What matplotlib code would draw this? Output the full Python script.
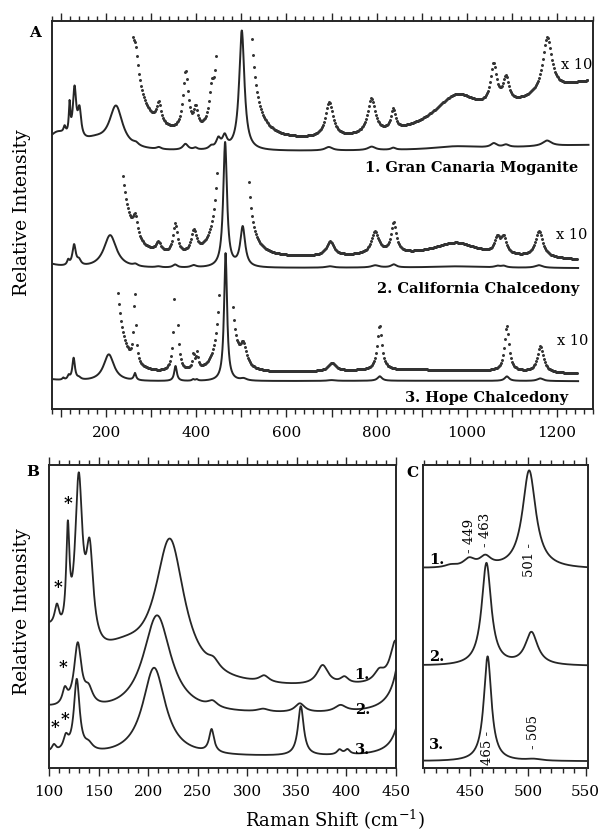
import numpy as np
import matplotlib
matplotlib.use("Agg")
import matplotlib.pyplot as plt
from matplotlib.ticker import MultipleLocator, FuncFormatter

plt.rcParams['font.family'] = ['DejaVu Serif']
plt.rcParams['mathtext.fontset'] = 'dejavuserif'

# Peak tables: band position (cm-1), height, half width
# 1. Gran Canaria moganite
mog_pos = [92, 108, 119, 130, 141, 175, 222, 266, 317, 376, 398, 433, 449, 463,
           501, 694, 789, 837, 975, 1060, 1087, 1178, 1300]
mog_height = [17, 7, 30, 50, 28, 8, 42, 2.5, 2.0, 6.0, 2.0, 3, 10, 12,
              120, 3.5, 3.5, 2.0, 3.0, 4.0, 2.5, 5.5, 7.0]
mog_width = [30, 3, 2, 4.5, 4.5, 35, 18, 7, 6, 7, 5, 6, 6, 6,
             7, 10, 10, 6, 60, 8, 8, 12, 250]

# 2. California chalcedony
cal_pos = [60, 116, 129, 140, 209, 265, 316, 353, 394, 464, 503,
           696, 797, 838, 976, 1068, 1082, 1160, 900]
cal_height = [6, 5, 21, 5, 33, 2.0, 1.0, 3.0, 2.2, 125, 40,
              1.4, 2.2, 3.0, 1.3, 1.5, 1.6, 2.6, 1.3]
cal_width = [30, 3, 4.5, 5, 17, 6, 7, 6, 7, 5, 6.5,
             10, 10, 7, 60, 7, 7, 10, 500]

# 3. Hope chalcedony
hope_pos = [60, 105, 117, 128, 140, 206, 264, 354, 393, 401, 465, 505,
            700, 807, 1089, 1163, 900]
hope_height = [3, 2, 4, 22, 2, 27, 7, 15, 1.5, 1.5, 128, 2.0,
               0.8, 4.5, 4.5, 2.6, 1.2]
hope_width = [30, 2.5, 3, 3.5, 5, 14, 3, 3.5, 3, 3, 4, 8,
              10, 6, 6, 8, 500]

names = ["1. Gran Canaria Moganite", "2. California Chalcedony", "3. Hope Chalcedony"]
solid_end = [1270, 1247, 1247]
dots_range = [(247, 1270), (236, 1245), (225, 1245)]


def spectrum(x, pos, height, width):
    x = np.asarray(x)[:, None]
    pos = np.asarray(pos)
    w = np.asarray(width)
    return np.sum(np.asarray(height) * w ** 2 / ((x - pos) ** 2 + w ** 2), axis=1)


samples = [(mog_pos, mog_height, mog_width),
           (cal_pos, cal_height, cal_width),
           (hope_pos, hope_height, hope_width)]

ink = '#262626'
fig = plt.figure(figsize=(6.01, 8.33), dpi=100)

axA = fig.add_axes([52 / 601, 1 - 409 / 833, 541 / 601, 388 / 833])
axB = fig.add_axes([49 / 601, 1 - 768 / 833, 347 / 601, 303 / 833])
axC = fig.add_axes([423 / 601, 1 - 768 / 833, 165 / 601, 303 / 833])

# ---- panel A : full spectra with x10 traces
baseA = [257, 140, 27]
clipA = [117, 97, 92]
for i, (pos, h, w) in enumerate(samples):
    x = np.arange(80, solid_end[i] + 0.1, 0.5)
    axA.plot(x, baseA[i] + spectrum(x, pos, h, w), color=ink, lw=1.4)
    xd = np.arange(dots_range[i][0], dots_range[i][1], 2.2)
    yd = 10 * spectrum(xd, pos, h, w)
    keep = yd <= clipA[i]
    axA.plot(xd[keep], baseA[i] + yd[keep], ls='none', marker='.', ms=2.3,
             color='#333333')

axA.set_xlim(80, 1280)
axA.set_ylim(0, 388)
axA.xaxis.set_major_locator(MultipleLocator(100))
axA.xaxis.set_minor_locator(MultipleLocator(20))
axA.xaxis.set_major_formatter(FuncFormatter(lambda v, p: f"{v:.0f}" if v % 200 == 0 else ""))

axA.text(1208, 344, "x 10", fontsize=10.5, va='center')
axA.text(1198, 174, "x 10", fontsize=10.5, va='center')
axA.text(1200, 68, "x 10", fontsize=10.5, va='center')
axA.text(1247, 241, names[0], fontsize=10.5, fontweight='bold', ha='right', va='center')
axA.text(1249, 120, names[1], fontsize=10.5, fontweight='bold', ha='right', va='center')
axA.text(1224, 11, names[2], fontsize=10.5, fontweight='bold', ha='right', va='center')

# ---- panel B : low frequency region
baseB = [76, 51, 9]
scaleB = [3.3, 3.0, 3.3]
xb = np.arange(100, 450.01, 0.25)
for i, (pos, h, w) in enumerate(samples):
    axB.plot(xb, baseB[i] + scaleB[i] * spectrum(xb, pos, h, w), color=ink, lw=1.3)
axB.set_xlim(100, 450)
axB.set_ylim(0, 303)
axB.xaxis.set_major_locator(MultipleLocator(50))
axB.xaxis.set_minor_locator(MultipleLocator(10))
for lbl, yy in zip(["1.", "2.", "3."], [93, 58, 18]):
    axB.text(416, yy, lbl, fontsize=10.5, fontweight='bold', ha='center', va='center')
for sx, sy in [(109, 180), (119, 265), (114, 100), (106, 40), (116, 49)]:
    axB.text(sx, sy, "*", fontsize=12, fontweight='bold', ha='center', va='center')

# ---- panel C : the 460 / 500 region
baseC = [198, 101, 6]
xc = np.arange(409, 552.01, 0.25)
for i, (pos, h, w) in enumerate(samples):
    axC.plot(xc, baseC[i] + 0.82 * spectrum(xc, pos, h, w), color=ink, lw=1.3)
axC.set_xlim(409, 552)
axC.set_ylim(0, 303)
axC.xaxis.set_major_locator(MultipleLocator(50))
axC.xaxis.set_minor_locator(MultipleLocator(10))
for lbl, yy in zip(["1.", "2.", "3."], [208, 111, 23]):
    axC.text(421, yy, lbl, fontsize=10.5, fontweight='bold', ha='center', va='center')
axC.text(449, 232, "- 449", rotation=90, fontsize=9.5, ha='center', va='center')
axC.text(463, 238, "- 463", rotation=90, fontsize=9.5, ha='center', va='center')
axC.text(501, 208, "501 -", rotation=90, fontsize=9.5, ha='center', va='center')
axC.text(465, 20, "465 -", rotation=90, fontsize=9.5, ha='center', va='center')
axC.text(505, 36, "- 505", rotation=90, fontsize=9.5, ha='center', va='center')

for ax in (axA, axB, axC):
    for s in ax.spines.values():
        s.set_linewidth(1.4)
        s.set_color(ink)
    ax.set_yticks([])
    ax.tick_params(axis='x', which='both', direction='out', top=True, bottom=True,
                   color=ink, labelsize=11, width=1.0)
    ax.tick_params(axis='x', which='major', length=6, pad=6)
    ax.tick_params(axis='x', which='minor', length=3.5)

fig.text(35 / 601, 1 - 33 / 833, "A", fontsize=11, fontweight='bold', ha='center', va='center')
fig.text(33 / 601, 1 - 472 / 833, "B", fontsize=11, fontweight='bold', ha='center', va='center')
fig.text(412 / 601, 1 - 473 / 833, "C", fontsize=11, fontweight='bold', ha='center', va='center')

fig.text(22 / 601, 1 - 213 / 833, "Relative Intensity", rotation=90, fontsize=13.5,
         ha='center', va='center')
fig.text(22 / 601, 1 - 612 / 833, "Relative Intensity", rotation=90, fontsize=13.5,
         ha='center', va='center')
fig.text(335 / 601, 1 - 820 / 833, "Raman Shift (cm$^{-1}$)", fontsize=13,
         ha='center', va='center')

fig.savefig("out.png", dpi=100, facecolor='white')
